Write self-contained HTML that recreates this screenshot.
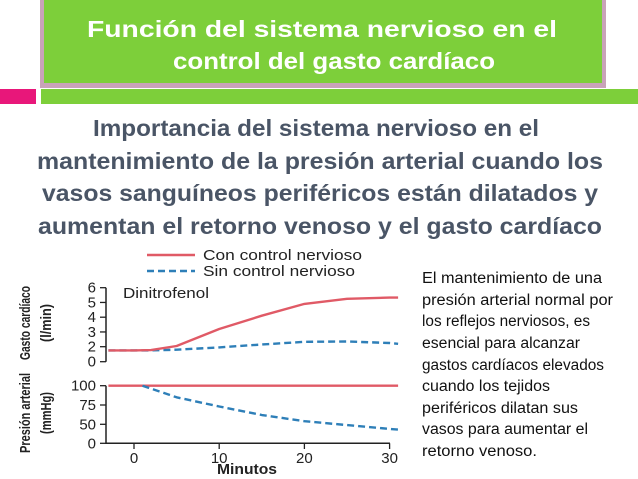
<!DOCTYPE html>
<html><head><meta charset="utf-8"><style>
html,body{margin:0;padding:0;background:#fff;}
svg{display:block;font-family:"Liberation Sans",sans-serif;}
</style></head><body>
<svg width="638" height="479" viewBox="0 0 638 479">
<rect x="40" y="0" width="566" height="88" fill="#c9a3b9"/>
<rect x="44" y="0" width="558" height="83" fill="#7dcf3a"/>
<text x="322" y="37" text-anchor="middle" font-size="23" font-weight="bold" fill="#fff" textLength="470" lengthAdjust="spacingAndGlyphs">Función del sistema nervioso en el</text>
<text x="334" y="69" text-anchor="middle" font-size="23" font-weight="bold" fill="#fff" textLength="322" lengthAdjust="spacingAndGlyphs">control del gasto cardíaco</text>
<rect x="0" y="89" width="36" height="15" fill="#e8177a"/>
<rect x="41" y="89" width="597" height="15" fill="#7dcf3a"/>
<g fill="#4a5566" font-size="23" font-weight="bold" text-anchor="middle">
<text x="316" y="136" textLength="446" lengthAdjust="spacingAndGlyphs">Importancia del sistema nervioso en el</text>
<text x="320" y="169" textLength="566" lengthAdjust="spacingAndGlyphs">mantenimiento de la presión arterial cuando los</text>
<text x="320" y="201" textLength="556" lengthAdjust="spacingAndGlyphs">vasos sanguíneos periféricos están dilatados y</text>
<text x="320" y="234" textLength="564" lengthAdjust="spacingAndGlyphs">aumentan el retorno venoso y el gasto cardíaco</text>
</g>
<g fill="#111" font-size="15.5">
<text x="422" y="283" textLength="180" lengthAdjust="spacingAndGlyphs">El mantenimiento de una</text>
<text x="422" y="305" textLength="191" lengthAdjust="spacingAndGlyphs">presión arterial normal por</text>
<text x="422" y="326" textLength="168" lengthAdjust="spacingAndGlyphs">los reflejos nerviosos, es</text>
<text x="422" y="348" textLength="158" lengthAdjust="spacingAndGlyphs">esencial para alcanzar</text>
<text x="422" y="370" textLength="182" lengthAdjust="spacingAndGlyphs">gastos cardíacos elevados</text>
<text x="422" y="391" textLength="128" lengthAdjust="spacingAndGlyphs">cuando los tejidos</text>
<text x="422" y="413" textLength="156" lengthAdjust="spacingAndGlyphs">periféricos dilatan sus</text>
<text x="422" y="434" textLength="166" lengthAdjust="spacingAndGlyphs">vasos para aumentar el</text>
<text x="422" y="456" textLength="115" lengthAdjust="spacingAndGlyphs">retorno venoso.</text>
</g>
<g id="chart"></g>
</svg>
<script>
const minutes=[-3,0,2,5,10,15,20,25,30,31];
const coCon=[1.5,1.5,1.55,2.05,3.2,4.1,4.9,5.25,5.33,5.33];
const coSin=[1.5,1.5,1.5,1.6,1.9,2.15,2.33,2.35,2.25,2.2];
const paMin=[-3,31];
const paCon=[100,100];
const paSinMin=[1,5,10,15,20,25,30,31];
const paSin=[100,85,73,62,54,48,38,36];
const coTicks=[0,2,3,4,5,6];
const paTicks=[0,50,75,100];
const xTicks=[0,10,20,30];
const NS="http://www.w3.org/2000/svg";
const g=document.getElementById('chart');
const X=v=>134+v*8.52;
const YT=v=>v>=2?346.7-(v-2)*14.75:361.7-v*7.5;
const YB=v=>v>=50?424.3-(v-50)*0.772:443.3-v*0.38;
function el(t,a,p){const e=document.createElementNS(NS,t);for(const k in a)e.setAttribute(k,a[k]);(p||g).appendChild(e);return e;}
function txt(x,y,s,a){const e=el('text',Object.assign({x:x,y:y},a));e.textContent=s;return e;}
let ax=el('path',{d:`M106,287.7 V361.7 M106,385.7 V443.3 H390`,stroke:'#222','stroke-width':1.5,fill:'none'});


coTicks.forEach(v=>{el('line',{x1:100,x2:106,y1:YT(v),y2:YT(v),stroke:'#222','stroke-width':1.3});
 const t=txt(96,YT(v)+5,String(v),{'text-anchor':'end','font-size':15,fill:'#222'});
 
 });
paTicks.forEach(v=>{el('line',{x1:100,x2:106,y1:YB(v),y2:YB(v),stroke:'#222','stroke-width':1.3});
 const t=txt(96,YB(v)+5,String(v),{'text-anchor':'end','font-size':15,fill:'#222'});
 
 });
xTicks.forEach(v=>{el('line',{x1:X(v),x2:X(v),y1:443.3,y2:449,stroke:'#222','stroke-width':1.3});
 const t=txt(X(v),463,String(v),{'text-anchor':'middle','font-size':15,fill:'#222'});
 
 });
function line(xs,ys,Y,color,dash,name){
 const d=xs.map((x,i)=>(i?'L':'M')+X(x).toFixed(1)+','+Y(ys[i]).toFixed(1)).join(' ');
 const a={d:d,fill:'none',stroke:color,'stroke-width':2.4,'stroke-linejoin':'round'};
 if(dash)a['stroke-dasharray']='7,4';
 const p=el('path',a);
 
 
}
line(minutes,coSin,YT,'#2e7fb8',true,'co-sin-control-line');
line(minutes,coCon,YT,'#e05a66',false,'co-con-control-line');
line(paMin,paCon,YB,'#e05a66',false,'pa-con-control-line');
line(paSinMin,paSin,YB,'#2e7fb8',true,'pa-sin-control-line');
el('line',{x1:147,x2:195,y1:255,y2:255,stroke:'#e05a66','stroke-width':2.4});
el('line',{x1:147,x2:195,y1:271,y2:271,stroke:'#2e7fb8','stroke-width':2.4,'stroke-dasharray':'7,4'});
let l1=txt(203,260,'Con control nervioso',{'font-size':14.5,fill:'#222',textLength:159,lengthAdjust:'spacingAndGlyphs'});


let l2=txt(203,276,'Sin control nervioso',{'font-size':14.5,fill:'#222',textLength:152,lengthAdjust:'spacingAndGlyphs'});


let dn=txt(123,298,'Dinitrofenol',{'font-size':14.5,fill:'#222',textLength:86,lengthAdjust:'spacingAndGlyphs'});


let xt=txt(247,474,'Minutos',{'font-size':14.5,'font-weight':'bold','text-anchor':'middle',fill:'#222',textLength:60,lengthAdjust:'spacingAndGlyphs'});


function ytitle(x,y,s,name,len){const t=txt(0,0,s,{'font-size':15,'font-weight':'bold','text-anchor':'middle',fill:'#222',transform:`translate(${x},${y}) rotate(-90)`,textLength:len,lengthAdjust:'spacingAndGlyphs'});
 
 }
ytitle(30,323,'Gasto cardíaco','co-axis-title',74);
ytitle(51,323,'(l/min)','co-axis-unit',38);
ytitle(30,413,'Presión arterial','pa-axis-title',80);
ytitle(51,413,'(mmHg)','pa-axis-unit',42);
</script>
</body></html>
